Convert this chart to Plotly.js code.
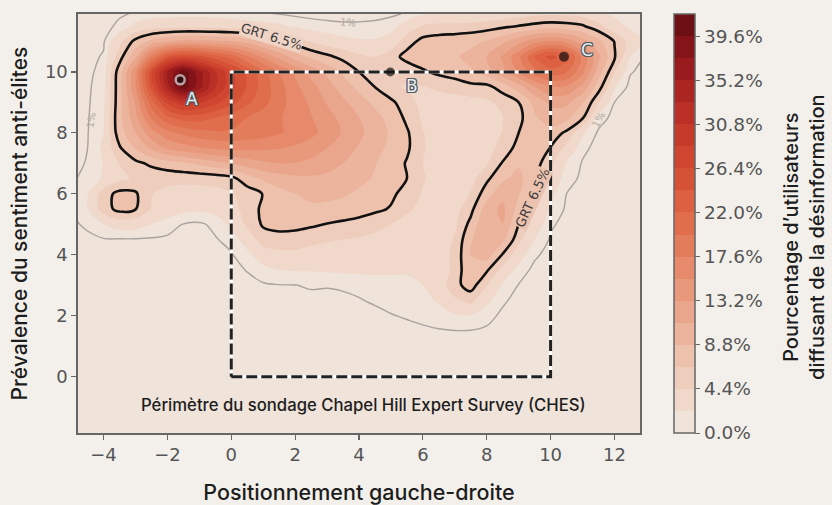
<!DOCTYPE html>
<html>
<head>
<meta charset="utf-8">
<script src="https://cdn.plot.ly/plotly-3.0.1.min.js"></script>
<style>
html,body{margin:0;padding:0;background:#f3f0eb;}
#chart{width:832px;height:505px;}
</style>
</head>
<body>
<div id="chart"></div>
<script>
// Grid positions (left-right position, anti-elite sentiment)
const gridX = [-5,-4.5,-4,-3.5,-3,-2.5,-2,-1.5,-1,-0.5,0,0.5,1,1.5,2,2.5,3,3.5,4,4.5,5,5.5,6,6.5,7,7.5,8,8.5,9,9.5,10,10.5,11,11.5,12,12.5,13];
const gridY = [12,11.5,11,10.5,10,9.5,9,8.5,8,7.5,7,6.5,6,5.5,5,4.5,4,3.5,3,2.5,2,1.5,1,0.5,0,-0.5,-1,-1.5,-2];

// Share of users spreading disinformation (%), one row per gridY value (top to bottom)
const shareRows = [
 [0.3,0.4,0.5,0.8,1.0,1.1,1.2,1.2,1.2,1.1,1.0,0.9,0.8,0.6,0.5,0.5,0.5,0.5,0.5,0.5,0.6,0.9,1.3,1.5,1.6,1.7,1.9,2.3,2.8,3.1,3.2,3.1,2.8,2.2,1.6,1.2,0.9],
 [0.3,0.45,0.7,1.2,2.6,3.3,3.5,3.7,3.7,3.6,3.4,3.0,2.8,2.5,1.9,1.5,1.3,1.2,1.2,1.3,1.6,3.0,4.6,5.0,5.1,5.2,5.5,6.0,6.6,7.2,7.6,7.4,6.8,5.0,3.0,1.8,1.2],
 [0.35,0.6,0.85,3.8,7.2,9.5,11,11.8,11.8,11.5,11.2,10.2,8.6,7.0,5.5,4.2,3.3,2.7,2.4,2.4,3.0,5.5,7.2,7.6,7.8,8.2,9.0,10.5,12.5,14.5,15.5,14.5,12.0,9.5,6.4,3.5,2.0],
 [0.4,0.7,1.1,5.5,10.5,18,24,26,25,23,21,18,15,12.5,10,8.2,7.0,5.8,4.8,4.4,5.5,7.3,7.8,8.0,8.5,9.5,11,13.5,17,22,25,23,17,11.5,6.8,2.2,0.8],
 [0.45,0.8,1.3,7.8,15,26,35,41,36,31,27,23.5,20.5,17.5,15,12.5,10.5,8.5,6.5,4.8,4.2,5.0,6.2,7.0,7.5,8.5,10,12.5,15.5,19,21,20,16,10,4.5,1.1,0.6],
 [0.45,0.85,1.5,8.0,15,25,34,41,36,31,27,24,21,18.5,16,14,12,10,8.2,6.5,4.8,4.2,4.3,4.8,5.3,5.8,5.8,7.5,10,13,15,15,12.5,7.5,2.3,0.6,0.4],
 [0.45,0.85,1.8,8.0,13.5,21,27,30,29,27,25,22.5,20.5,18.5,16.5,15,13,11.5,9.8,8.3,7.0,5.2,3.8,3.4,3.4,3.6,4.0,5.0,6.5,9.5,11.5,11.5,9.0,4.5,1.0,0.5,0.4],
 [0.45,0.9,2.0,8.2,12.5,18,21.5,23,23,22,21,19.8,18.8,17.8,16.8,15.5,14,12.5,11,9.5,8.0,6.0,4.0,3.2,3.0,3.0,3.5,4.3,5.8,8.5,10,9.5,6.8,1.6,0.6,0.5,0.4],
 [0.5,0.95,2.2,7.8,11,14.5,17,18.2,19,19.5,19.5,19,18.5,17.8,17,16,14.5,13,11.5,10,8.5,6.8,4.5,3.2,2.8,2.8,3.3,4.5,6.5,8.2,8.0,6.0,2.5,0.8,0.5,0.4,0.4],
 [0.55,1.0,2.5,6.2,9.0,11.5,13.5,14.5,15.2,15.8,16,16,15.8,15.5,15,14.2,13.2,12,10.8,9.5,8.3,6.9,4.6,3.2,2.7,2.8,3.6,5.2,7.3,8.0,6.4,3.8,1.3,0.6,0.45,0.4,0.4],
 [0.6,1.1,2.3,4.5,5.9,7.0,7.8,8.5,9.3,10.2,11.0,12.0,12.8,13.2,13.1,12.7,12,11,10,8.9,7.8,6.3,4.4,3.3,2.8,3.0,4.2,6.7,8.5,7.6,4.8,2.0,0.9,0.55,0.45,0.4,0.4],
 [0.8,1.4,2.4,3.8,4.8,4.8,5.0,5.0,5.1,5.3,5.8,7.8,9.2,10,10.5,10.6,10.4,10,9.3,8.6,7.7,6.5,4.6,3.4,3.0,3.6,6.0,8.4,9.5,7.0,3.5,1.6,0.7,0.5,0.45,0.4,0.4],
 [1.05,2.0,5.5,7.2,6.8,4.5,3.8,3.5,3.5,3.7,4.2,5.3,6.6,8.0,8.8,9.2,9.2,9.0,8.5,7.8,7.0,5.6,4.2,3.4,3.3,4.5,7.8,10.5,9.0,6.2,2.6,1.0,0.6,0.5,0.45,0.4,0.4],
 [1.05,2.0,5.5,7.2,6.6,4.2,3.2,2.6,2.5,2.8,3.6,5.2,7.0,8.0,8.4,8.5,8.4,8.1,7.6,7.0,6.3,4.8,3.8,3.3,3.6,5.8,10,11.5,8.0,4.6,2.0,0.8,0.55,0.45,0.4,0.4,0.4],
 [0.8,1.2,2.2,3.0,2.9,2.2,1.5,0.95,0.8,1.3,2.5,4.8,6.8,7.3,7.2,6.9,6.4,6.0,5.6,5.0,4.4,3.6,3.2,3.2,4.0,7.2,11,11,6.5,3.3,1.2,0.6,0.5,0.45,0.4,0.4,0.4],
 [0.6,0.75,0.9,0.9,0.9,0.85,0.8,0.75,0.75,0.9,1.4,3.0,5.4,5.6,5.5,4.9,4.6,4.4,4.2,3.9,3.5,3.1,3.0,3.2,4.6,8.5,11,9.5,5.0,2.2,0.85,0.55,0.5,0.45,0.4,0.4,0.4],
 [0.5,0.6,0.7,0.7,0.7,0.7,0.65,0.65,0.65,0.7,0.9,1.8,3.2,3.8,3.9,3.7,3.5,3.4,3.3,3.2,3.0,2.8,2.8,3.2,5.0,8.8,10,6.3,3.0,1.2,0.6,0.5,0.45,0.4,0.4,0.4,0.4],
 [0.45,0.5,0.55,0.55,0.55,0.55,0.55,0.55,0.55,0.6,0.7,1.05,1.7,2.2,2.3,2.3,2.4,2.5,2.6,2.6,2.5,2.4,2.5,3.0,5.0,8.5,6.8,3.6,1.6,0.7,0.5,0.45,0.4,0.4,0.4,0.4,0.4],
 [0.4,0.45,0.5,0.5,0.5,0.5,0.5,0.5,0.5,0.5,0.55,0.7,0.85,0.95,0.98,1.1,1.05,1.1,1.2,1.4,1.6,1.8,2.2,3.0,5.8,7.5,4.5,2.0,0.95,0.55,0.45,0.4,0.4,0.4,0.4,0.4,0.4],
 [0.4,0.4,0.45,0.45,0.45,0.45,0.45,0.45,0.45,0.45,0.5,0.5,0.55,0.6,0.6,0.75,0.8,0.85,0.95,1.1,1.3,1.5,1.8,2.4,4.0,5.0,2.6,1.2,0.6,0.45,0.4,0.4,0.4,0.4,0.4,0.4,0.4],
 [0.35,0.4,0.4,0.4,0.4,0.4,0.4,0.4,0.4,0.4,0.45,0.45,0.5,0.5,0.5,0.55,0.6,0.65,0.7,0.8,0.95,1.1,1.3,1.6,2.0,2.0,1.4,0.75,0.5,0.4,0.4,0.4,0.4,0.4,0.4,0.4,0.4],
 [0.3,0.35,0.35,0.35,0.35,0.35,0.35,0.35,0.35,0.35,0.4,0.4,0.4,0.45,0.45,0.45,0.5,0.5,0.55,0.55,0.6,0.7,0.8,0.9,0.97,0.95,0.8,0.55,0.4,0.35,0.35,0.35,0.35,0.35,0.35,0.35,0.35],
 [0.3,0.3,0.3,0.3,0.3,0.3,0.3,0.3,0.3,0.3,0.35,0.35,0.35,0.4,0.4,0.4,0.4,0.45,0.45,0.45,0.5,0.5,0.55,0.6,0.6,0.6,0.55,0.45,0.35,0.3,0.3,0.3,0.3,0.3,0.3,0.3,0.3],
 [0.25,0.25,0.25,0.25,0.25,0.25,0.25,0.25,0.25,0.25,0.3,0.3,0.3,0.3,0.3,0.35,0.35,0.35,0.35,0.4,0.4,0.4,0.4,0.45,0.45,0.45,0.4,0.35,0.3,0.25,0.25,0.25,0.25,0.25,0.25,0.25,0.25],
 [0.2,0.2,0.2,0.2,0.2,0.2,0.2,0.2,0.2,0.2,0.25,0.25,0.25,0.25,0.25,0.3,0.3,0.3,0.3,0.3,0.35,0.35,0.35,0.35,0.35,0.35,0.3,0.3,0.25,0.2,0.2,0.2,0.2,0.2,0.2,0.2,0.2],
 [0.2,0.2,0.2,0.2,0.2,0.2,0.2,0.2,0.2,0.2,0.2,0.2,0.25,0.25,0.25,0.25,0.25,0.25,0.3,0.3,0.3,0.3,0.3,0.3,0.3,0.3,0.25,0.25,0.2,0.2,0.2,0.2,0.2,0.2,0.2,0.2,0.2],
 [0.15,0.15,0.15,0.15,0.15,0.15,0.15,0.15,0.15,0.15,0.15,0.15,0.2,0.2,0.2,0.2,0.2,0.2,0.25,0.25,0.25,0.25,0.25,0.25,0.25,0.25,0.2,0.2,0.15,0.15,0.15,0.15,0.15,0.15,0.15,0.15,0.15],
 [0.15,0.15,0.15,0.15,0.15,0.15,0.15,0.15,0.15,0.15,0.15,0.15,0.15,0.15,0.15,0.15,0.15,0.15,0.2,0.2,0.2,0.2,0.2,0.2,0.2,0.2,0.15,0.15,0.15,0.15,0.15,0.15,0.15,0.15,0.15,0.15,0.15],
 [0.1,0.1,0.1,0.1,0.1,0.1,0.1,0.1,0.1,0.1,0.1,0.1,0.1,0.1,0.1,0.1,0.1,0.1,0.15,0.15,0.15,0.15,0.15,0.15,0.15,0.15,0.1,0.1,0.1,0.1,0.1,0.1,0.1,0.1,0.1,0.1,0.1]
];

// Threshold contours
const grtLevel = 6.5;
const lowLevel = 1;

// CHES survey perimeter
const chesX = [0, 10, 10, 0, 0];
const chesY = [0, 0, 10, 10, 0];

// Highlighted parties
const pointX = [-1.6, 4.98, 10.42];
const pointY = [9.74, 10.0, 10.5];
const pointLabels = ['A', 'B', 'C'];

// Ticks and colour bands (one colour per 2.2 % band, 0 -> 41.8 %)
const xTicks = [-4, -2, 0, 2, 4, 6, 8, 10, 12];
const yTicks = [0, 2, 4, 6, 8, 10];
const colorbarTicks = [0, 4.4, 8.8, 13.2, 17.6, 22.0, 26.4, 30.8, 35.2, 39.6];
const colorbarRange = [0, 41.8];
const bandSize = 2.2;
const bandColors = ['#efe3da','#f0d8ca','#efcdbc','#eec1ad','#ecb49d','#eaa68c','#e8987b','#e68a6b','#e37c5b',
  '#e06e4d','#dc6041','#d65237','#cf452f','#c63a2a','#ba2f26','#ab2521','#991b1d','#841419','#6e0f14'];

const yAsc = gridY.slice().reverse();
const zAsc = shareRows.slice().reverse();

// Plotly fills band k with the colour found at (k+1)/20 of the scale
const fillScale = [[0, bandColors[0]]];
bandColors.forEach((c, k) => fillScale.push([(k + 1) / 20, c]));
fillScale.push([1, bandColors[bandColors.length - 1]]);

// Discrete scale for the colour bar
const nb = bandColors.length;
const barScale = [];
bandColors.forEach((c, k) => { barScale.push([k / nb, c]); barScale.push([(k + 1) / nb, c]); });

const fillTrace = {
  type: 'contour', x: gridX, y: yAsc, z: zAsc,
  autocontour: false, showscale: false,
  contours: {start: colorbarRange[0], end: colorbarRange[1] + 0.01, size: bandSize, coloring: 'fill', showlines: false},
  line: {width: 0, smoothing: 1},
  colorscale: fillScale,
  hoverinfo: 'skip'
};

const scaleTrace = {
  type: 'scatter', mode: 'markers', x: [null, null], y: [null, null], hoverinfo: 'skip',
  marker: {
    color: colorbarRange, cmin: colorbarRange[0], cmax: colorbarRange[1], colorscale: barScale, showscale: true,
    colorbar: {
      x: 1.0605, xanchor: 'left', xpad: 0, ypad: 0, y: 0.5, yanchor: 'middle',
      len: 1, thickness: 21,
      outlinecolor: '#666', outlinewidth: 1.5,
      tickmode: 'array', tickvals: colorbarTicks, ticktext: colorbarTicks.map(t => t.toFixed(1) + '%'),
      ticks: 'outside', ticklen: 5, tickcolor: '#666',
      tickfont: {family: 'DejaVu Sans', size: 18.5, color: '#555'}
    }
  }
};

const lowLine = {
  type: 'contour', x: gridX, y: yAsc, z: zAsc, showscale: false, hoverinfo: 'skip',
  autocontour: false,
  contours: {start: lowLevel, end: lowLevel, size: 1, coloring: 'none'},
  line: {color: '#aaa39e', width: 1.4, smoothing: 1}
};

const grtLine = {
  type: 'contour', x: gridX, y: yAsc, z: zAsc, showscale: false, hoverinfo: 'skip',
  autocontour: false,
  contours: {start: grtLevel, end: grtLevel, size: 1, coloring: 'none'},
  line: {color: '#111', width: 2.6, smoothing: 1}
};

const chesBack = {
  type: 'scatter', mode: 'lines', x: chesX, y: chesY, hoverinfo: 'skip',
  line: {color: '#ffffff', width: 3}
};
const chesLine = {
  type: 'scatter', mode: 'lines', x: chesX, y: chesY, hoverinfo: 'skip',
  line: {color: '#222', width: 3, dash: '11px,4px'}
};

const points = {
  type: 'scatter', mode: 'markers', x: pointX, y: pointY, hoverinfo: 'skip',
  marker: {color: '#111', size: [9, 9, 10], line: {color: '#d9e0e4', width: [2.5, 0, 0]}}
};

const outline = '1px 1px 0 #4f5a63, -1px -1px 0 #4f5a63, 1px -1px 0 #4f5a63, -1px 1px 0 #4f5a63, 0 1px 0 #4f5a63, 0 -1px 0 #4f5a63, 1px 0 0 #4f5a63, -1px 0 0 #4f5a63';
const labelFont = {family: 'DejaVu Sans', size: 17, color: '#e6ecef', shadow: outline};
const titleFont = {family: 'Inter', size: 21, color: '#1d1d1d', weight: 500};

const layout = {
  width: 832, height: 505,
  paper_bgcolor: '#f3f0eb', plot_bgcolor: '#efe3da',
  margin: {l: 78, r: 192, t: 14, b: 72, pad: 0},
  showlegend: false,
  xaxis: {
    range: [-4.8, 12.8], tickmode: 'array', tickvals: xTicks,
    ticks: 'outside', ticklen: 5, tickwidth: 1.2, tickcolor: '#666',
    showgrid: false, zeroline: false, showline: true, mirror: true, linecolor: '#666', linewidth: 1.6,
    tickfont: {family: 'DejaVu Sans', size: 18, color: '#555'},
    title: {text: 'Positionnement gauche-droite', standoff: 22,
            font: {family: 'Inter', size: 21.5, color: '#1d1d1d', weight: 500}}
  },
  yaxis: {
    range: [-1.85, 11.9], tickmode: 'array', tickvals: yTicks,
    ticks: 'outside', ticklen: 5, tickwidth: 1.2, tickcolor: '#666',
    showgrid: false, zeroline: false, showline: true, mirror: true, linecolor: '#666', linewidth: 1.6,
    tickfont: {family: 'DejaVu Sans', size: 18, color: '#555'},
    title: {text: 'Prévalence du sentiment anti-élites', standoff: 11, font: titleFont}
  },
  annotations: [
    {x: 1.2918, y: 0.468, xref: 'paper', yref: 'paper', xanchor: 'center', yanchor: 'middle',
     showarrow: false, textangle: -90,
     text: 'Pourcentage d\u2019utilisateurs<br>diffusant de la désinformation',
     font: {family: 'Inter', size: 20, color: '#1d1d1d', weight: 500}},
    {x: 4.13, y: -0.92, xref: 'x', yref: 'y', showarrow: false,
     text: 'Périmètre du sondage Chapel Hill Expert Survey (CHES)',
     font: {family: 'Inter', size: 16.7, color: '#1d1d1d', weight: 500}},
    {x: -1.22, y: 9.12, xref: 'x', yref: 'y', showarrow: false, text: pointLabels[0], font: labelFont},
    {x: 5.67, y: 9.55, xref: 'x', yref: 'y', showarrow: false, text: pointLabels[1], font: labelFont},
    {x: 11.15, y: 10.72, xref: 'x', yref: 'y', showarrow: false, text: pointLabels[2], font: labelFont},
    {x: 1.25, y: 11.17, xref: 'x', yref: 'y', showarrow: false, text: 'GRT 6.5%', textangle: 17,
     bgcolor: '#efd3c4', borderpad: 0, font: {family: 'DejaVu Sans', size: 13, color: '#3d3d3d'}},
    {x: 9.42, y: 5.85, xref: 'x', yref: 'y', showarrow: false, text: 'GRT 6.5%', textangle: -65,
     bgcolor: '#ecc2ae', borderpad: 0, font: {family: 'DejaVu Sans', size: 13, color: '#3d3d3d'}},
    {x: -4.38, y: 8.43, xref: 'x', yref: 'y', showarrow: false, text: '1%', textangle: -80,
     font: {family: 'DejaVu Sans', size: 10, color: '#b3aba5'}},
    {x: 3.65, y: 11.63, xref: 'x', yref: 'y', showarrow: false, text: '1%', textangle: 6,
     font: {family: 'DejaVu Sans', size: 10, color: '#b3aba5'}},
    {x: 11.5, y: 8.45, xref: 'x', yref: 'y', showarrow: false, text: '1%', textangle: -62,
     font: {family: 'DejaVu Sans', size: 10, color: '#b3aba5'}}
  ]
};

Plotly.newPlot('chart', [fillTrace, lowLine, grtLine, chesBack, chesLine, points, scaleTrace], layout,
  {displayModeBar: false, staticPlot: true});
</script>
</body>
</html>
